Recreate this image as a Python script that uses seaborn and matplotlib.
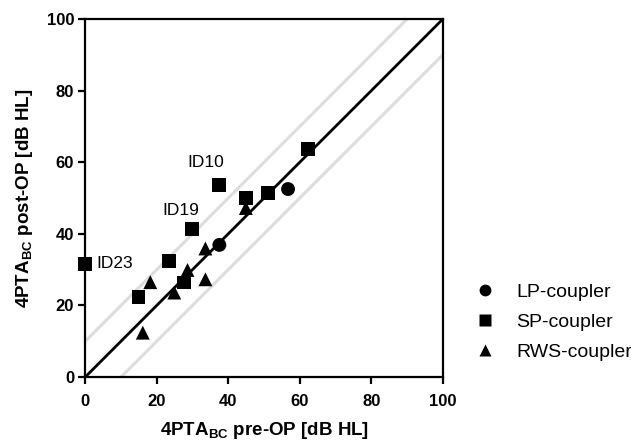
import pandas as pd
import seaborn as sns
import matplotlib.pyplot as plt
import numpy as np

# Values
lp_pre = [37.5, 56.7]
lp_post = [36.9, 52.5]
sp_pre = [0.0, 14.9, 23.5, 27.5, 29.9, 37.5, 44.9, 51.2, 62.2]
sp_post = [31.6, 22.4, 32.5, 26.4, 41.3, 53.7, 50.1, 51.4, 63.8]
rws_pre = [16.1, 18.2, 24.9, 28.6, 33.6, 33.6, 44.9]
rws_post = [12.4, 26.5, 23.6, 29.9, 35.9, 27.3, 47.2]
groups = ["LP-coupler", "SP-coupler", "RWS-coupler"]
labels = ["ID10", "ID19", "ID23"]
label_x = [28.5, 21.5, 3.2]
label_y = [59.8, 46.4, 31.6]

df = pd.DataFrame({
    "pre": lp_pre + sp_pre + rws_pre,
    "post": lp_post + sp_post + rws_post,
    "group": [groups[0]] * len(lp_pre) + [groups[1]] * len(sp_pre) + [groups[2]] * len(rws_pre),
})

sns.set_style("ticks", {"axes.edgecolor": "black", "text.color": "black",
                        "axes.labelcolor": "black", "xtick.color": "black", "ytick.color": "black"})
plt.rcParams["font.family"] = ["Liberation Sans", "DejaVu Sans"]
plt.rcParams["mathtext.fontset"] = "custom"
plt.rcParams["mathtext.bf"] = "Liberation Sans:bold"
plt.rcParams["mathtext.rm"] = "Liberation Sans"

fig = plt.figure(figsize=(6.31, 4.40), dpi=100)
ax = fig.add_axes([0.135, 0.143, 0.567, 0.814])

# reference lines: identity and +/- 10 dB
xs = np.array([0, 100])
ax.plot(xs, xs + 10, color="#dddddd", lw=2.2, zorder=1)
ax.plot(xs, xs - 10, color="#dddddd", lw=2.2, zorder=1)
ax.plot(xs, xs, color="black", lw=2.0, zorder=2)

sns.scatterplot(data=df, x="pre", y="post", style="group", hue="group",
                palette=["black"] * 3, markers={"LP-coupler": "o", "SP-coupler": "s", "RWS-coupler": "^"},
                s=100, edgecolor="none", ax=ax, zorder=3, clip_on=False)

for t, x, y in zip(labels, label_x, label_y):
    ax.text(x, y, t, fontsize=12.5, va="center", ha="left", color="black")

ax.set_xlim(0, 100)
ax.set_ylim(0, 100)
ax.set_xticks(range(0, 101, 20))
ax.set_yticks(range(0, 101, 20))
for sp in ax.spines.values():
    sp.set_linewidth(1.6)
    sp.set_color("black")
ax.tick_params(width=1.6, length=5, labelsize=12, colors="black")
ax.tick_params(axis="x", pad=7)
ax.tick_params(axis="y", pad=3)
for lab in ax.get_xticklabels() + ax.get_yticklabels():
    lab.set_fontweight("bold")

ax.set_xlabel(r"4PTA$_\mathbf{BC}$ pre-OP [dB HL]", fontsize=13.5, fontweight="bold", labelpad=8, color="black")
ax.set_ylabel(r"4PTA$_\mathbf{BC}$ post-OP [dB HL]", fontsize=13.5, fontweight="bold", labelpad=8, color="black")

handles, hlabels = ax.get_legend_handles_labels()
leg = ax.legend(handles, hlabels, loc="center left", bbox_to_anchor=(0.71, 0.268),
                bbox_transform=fig.transFigure, frameon=False, fontsize=14,
                handlelength=2.0, handletextpad=0.6, labelspacing=0.62, markerscale=0.85)
for txt in leg.get_texts():
    txt.set_color("black")

plt.savefig("out.png", dpi=100)
